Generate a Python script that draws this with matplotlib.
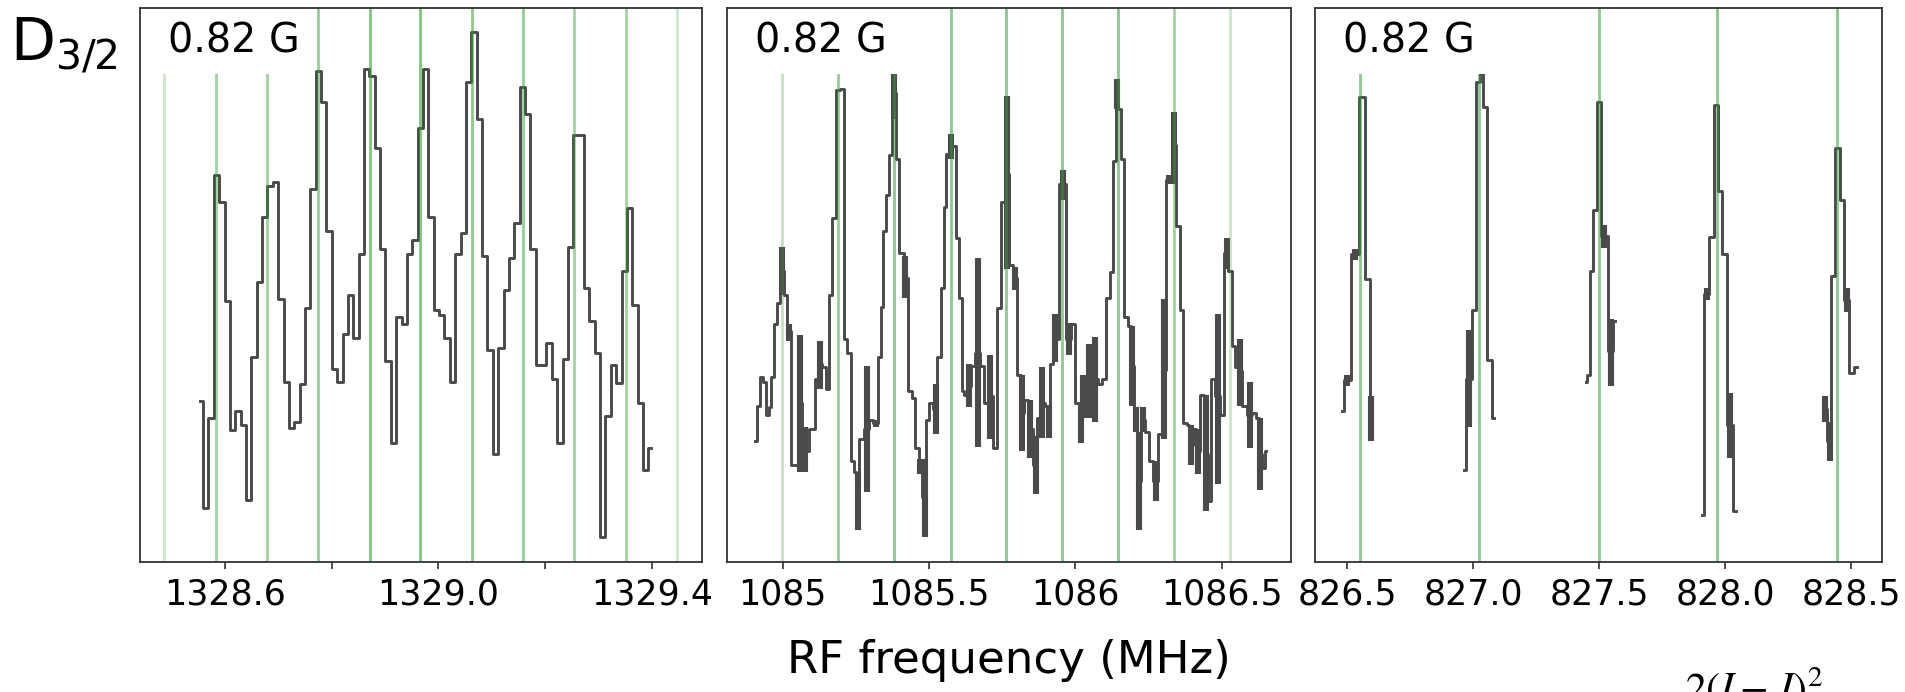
import numpy as np
import matplotlib.pyplot as plt

# ---- panel 1 (1328-1329 MHz) : regular scan, step ~0.01 MHz ----
p1_start = 1328.554
p1_step = 0.01005
p1_signal = [0.291, 0.097, 0.260, 0.699, 0.649, 0.471, 0.239, 0.273, 0.247, 0.112,
             0.370, 0.506, 0.622, 0.679, 0.685, 0.475, 0.325, 0.242, 0.253, 0.321,
             0.458, 0.674, 0.886, 0.831, 0.597, 0.349, 0.325, 0.412, 0.481, 0.404,
             0.555, 0.890, 0.878, 0.747, 0.565, 0.362, 0.214, 0.442, 0.430, 0.555,
             0.581, 0.784, 0.890, 0.623, 0.455, 0.445, 0.404, 0.325, 0.555, 0.594,
             0.867, 0.956, 0.799, 0.553, 0.383, 0.194, 0.386, 0.490, 0.549, 0.612,
             0.857, 0.808, 0.565, 0.356, 0.356, 0.396, 0.330, 0.214, 0.367, 0.568,
             0.771, 0.771, 0.495, 0.435, 0.377, 0.045, 0.263, 0.356, 0.323, 0.525,
             0.638, 0.464, 0.286, 0.166, 0.205]
p1_lines = [1328.486, 1328.583, 1328.678, 1328.774, 1328.871, 1328.966,
            1329.062, 1329.158, 1329.254, 1329.351, 1329.447]
p1_line_weight = [0.25, 0.45, 0.45, 0.5, 0.6, 0.6, 0.55, 0.5, 0.45, 0.45, 0.25]

# ---- panel 2 (1085-1086.5 MHz) ----
p2_freq = [1084.907, 1084.916, 1084.927, 1084.938, 1084.947, 1084.957, 1084.966, 1084.975,
           1084.984, 1084.998, 1085.009, 1085.023, 1085.034, 1085.045, 1085.058, 1085.077,
           1085.105, 1085.115, 1085.127, 1085.145, 1085.153, 1085.165, 1085.176, 1085.188,
           1085.202, 1085.216, 1085.227, 1085.239, 1085.248, 1085.257, 1085.267, 1085.289,
           1085.302, 1085.319, 1085.331, 1085.340, 1085.349, 1085.359, 1085.369, 1085.381,
           1085.392, 1085.407, 1085.420, 1085.438, 1085.449, 1085.459, 1085.470, 1085.485,
           1085.495, 1085.507, 1085.523, 1085.535, 1085.545, 1085.555, 1085.564, 1085.574,
           1085.585, 1085.597, 1085.608, 1085.616, 1085.623, 1085.636, 1085.650, 1085.668,
           1085.682, 1085.693, 1085.710, 1085.725, 1085.739, 1085.752, 1085.767, 1085.780,
           1085.793, 1085.809, 1085.818, 1085.832, 1085.844, 1085.866, 1085.876, 1085.886,
           1085.905, 1085.910, 1085.918, 1085.932, 1085.957, 1085.977, 1085.991, 1086.006,
           1086.019, 1086.028, 1086.048, 1086.069, 1086.085, 1086.098, 1086.113, 1086.125,
           1086.135, 1086.142, 1086.151, 1086.161, 1086.173, 1086.185, 1086.193, 1086.206,
           1086.217, 1086.231, 1086.244, 1086.257, 1086.275, 1086.290, 1086.302, 1086.320,
           1086.338, 1086.352, 1086.364, 1086.375, 1086.386, 1086.394, 1086.408, 1086.420,
           1086.432, 1086.447, 1086.458, 1086.467, 1086.489, 1086.502, 1086.517, 1086.528,
           1086.540, 1086.549, 1086.564, 1086.578, 1086.597, 1086.613, 1086.623, 1086.633,
           1086.644, 1086.651]
p2_signal = [0.218, 0.282, 0.334, 0.325, 0.266, 0.279, 0.334, 0.429,
             0.468, 0.526, 0.481, 0.416, 0.175, 0.175, 0.286, 0.201,
             0.240, 0.331, 0.357, 0.351, 0.312, 0.481, 0.620, 0.851,
             0.854, 0.403, 0.377, 0.182, 0.162, 0.110, 0.221, 0.240,
             0.256, 0.250, 0.370, 0.461, 0.597, 0.662, 0.734, 0.847,
             0.727, 0.558, 0.513, 0.308, 0.295, 0.205, 0.172, 0.117,
             0.256, 0.286, 0.276, 0.370, 0.494, 0.640, 0.737, 0.750,
             0.750, 0.584, 0.477, 0.308, 0.302, 0.318, 0.354, 0.377,
             0.354, 0.286, 0.299, 0.205, 0.458, 0.649, 0.700, 0.536,
             0.513, 0.338, 0.269, 0.292, 0.240, 0.175, 0.260, 0.286,
             0.282, 0.253, 0.357, 0.403, 0.682, 0.403, 0.429, 0.286,
             0.250, 0.299, 0.328, 0.331, 0.321, 0.331, 0.477, 0.523,
             0.724, 0.844, 0.818, 0.727, 0.442, 0.425, 0.354, 0.256,
             0.146, 0.256, 0.234, 0.182, 0.146, 0.231, 0.347, 0.690,
             0.753, 0.607, 0.455, 0.250, 0.247, 0.211, 0.240, 0.201,
             0.302, 0.195, 0.110, 0.331, 0.299, 0.266, 0.558, 0.526,
             0.390, 0.351, 0.344, 0.282, 0.266, 0.269, 0.260, 0.195,
             0.169, 0.201]
# dense repeated scans that render as solid blocks
p2_block_freq = [1084.998, 1085.023, 1085.058, 1085.077, 1085.127, 1085.257, 1085.289,
                 1085.319, 1085.381, 1085.420, 1085.470, 1085.485, 1085.523, 1085.574,
                 1085.636, 1085.668, 1085.710, 1085.767, 1085.793, 1085.818, 1085.844,
                 1085.866, 1085.886, 1085.910, 1085.932, 1085.957, 1085.977, 1086.019,
                 1086.028, 1086.048, 1086.069, 1086.142, 1086.193, 1086.206, 1086.217,
                 1086.231, 1086.275, 1086.302, 1086.320, 1086.338, 1086.394, 1086.420,
                 1086.447, 1086.489, 1086.517, 1086.564, 1086.597, 1086.633]
p2_block_low = [0.481, 0.399, 0.162, 0.162, 0.312, 0.058, 0.127,
                0.244, 0.799, 0.477, 0.159, 0.045, 0.231, 0.727,
                0.279, 0.208, 0.221, 0.529, 0.490, 0.201, 0.188,
                0.123, 0.224, 0.224, 0.360, 0.653, 0.373, 0.214,
                0.260, 0.260, 0.253, 0.818, 0.282, 0.234, 0.058,
                0.234, 0.110, 0.221, 0.682, 0.682, 0.175, 0.159,
                0.091, 0.140, 0.529, 0.282, 0.205, 0.130]
p2_block_high = [0.568, 0.429, 0.409, 0.244, 0.399, 0.162, 0.354,
                 0.256, 0.896, 0.552, 0.185, 0.185, 0.321, 0.773,
                 0.357, 0.549, 0.373, 0.841, 0.532, 0.338, 0.292,
                 0.227, 0.351, 0.282, 0.448, 0.708, 0.432, 0.286,
                 0.338, 0.393, 0.406, 0.871, 0.425, 0.279, 0.234,
                 0.279, 0.182, 0.474, 0.698, 0.812, 0.247, 0.240,
                 0.302, 0.448, 0.584, 0.403, 0.325, 0.260]
p2_lines = [1084.998, 1085.190, 1085.381, 1085.574, 1085.765, 1085.955,
            1086.146, 1086.337, 1086.530]
p2_line_weight = [0.3, 0.5, 0.55, 0.55, 0.55, 0.55, 0.55, 0.45, 0.25]

# ---- panel 3 (826.5-828.5 MHz) : five separate scans ----
p3_freq = [
    [826.480, 826.500, 826.531, 826.561, 826.584, 826.599],
    [826.964, 826.984, 827.007, 827.019, 827.033, 827.048, 827.065, 827.083],
    [827.447, 827.457, 827.469, 827.483, 827.498, 827.518, 827.549, 827.564],
    [827.908, 827.926, 827.949, 827.966, 827.976, 827.995, 828.018, 828.042],
    [828.396, 828.415, 828.427, 828.445, 828.462, 828.482, 828.503, 828.521],
]
p3_signal = [
    [0.273, 0.328, 0.555, 0.839, 0.510, 0.260],
    [0.166, 0.331, 0.455, 0.867, 0.896, 0.821, 0.364, 0.260],
    [0.325, 0.338, 0.526, 0.636, 0.831, 0.588, 0.380, 0.435],
    [0.084, 0.484, 0.586, 0.825, 0.669, 0.555, 0.247, 0.091],
    [0.276, 0.218, 0.516, 0.747, 0.653, 0.473, 0.341, 0.351],
]
p3_block_freq = [826.500, 826.531, 826.597, 826.984, 827.518, 827.549,
                 827.926, 828.018, 828.396, 828.415, 828.482]
p3_block_low = [0.318, 0.545, 0.218, 0.244, 0.567, 0.318, 0.472, 0.188, 0.253, 0.182, 0.451]
p3_block_high = [0.338, 0.565, 0.299, 0.419, 0.609, 0.438, 0.494, 0.305, 0.299, 0.253, 0.494]
p3_lines = [826.553, 827.025, 827.500, 827.969, 828.442]
p3_line_weight = [0.55, 0.55, 0.55, 0.55, 0.55]

trace_color = '#4a4a4a'
line_color = '#2ca02c'

fig = plt.figure(figsize=(19.06, 6.92), dpi=100)
ax1 = fig.add_axes([0.0735, 0.188, 0.2949, 0.8005])
ax2 = fig.add_axes([0.3814, 0.188, 0.2959, 0.8005])
ax3 = fig.add_axes([0.6899, 0.188, 0.2975, 0.8005])

p1_freq = p1_start + p1_step * np.arange(len(p1_signal))
ax1.step(p1_freq, p1_signal, where='mid', color=trace_color, lw=2.1, zorder=2)

ax2.step(p2_freq, p2_signal, where='mid', color=trace_color, lw=2.1, zorder=2)
ax2.vlines(p2_block_freq, p2_block_low, p2_block_high, color=trace_color, lw=4.4, zorder=2)

for f, s in zip(p3_freq, p3_signal):
    ax3.step(f, s, where='mid', color=trace_color, lw=2.1, zorder=2)
ax3.vlines(p3_block_freq, p3_block_low, p3_block_high, color=trace_color, lw=4.4, zorder=2)

for ax, lines, weights in [(ax1, p1_lines, p1_line_weight),
                           (ax2, p2_lines, p2_line_weight),
                           (ax3, p3_lines, p3_line_weight)]:
    for f, w in zip(lines, weights):
        ax.axvline(f, color=line_color, alpha=w, lw=2.0, zorder=3)
    ax.set_ylim(0, 1)
    ax.set_yticks([])
    for sp in ax.spines.values():
        sp.set_color('#333333')
        sp.set_linewidth(1.3)
        sp.set_zorder(6)
    ax.tick_params(axis='x', direction='out', length=5, width=1.2,
                   labelsize=25, pad=6, color='#333333')
    ax.text(0.05, 0.94, '0.82 G', transform=ax.transAxes, fontsize=28.5,
            va='center', ha='left', zorder=5,
            bbox=dict(facecolor='white', edgecolor='none', pad=9))

ax1.set_xlim(1328.441, 1329.494)
ax1.set_xticks([1328.6, 1328.8, 1329.0, 1329.2, 1329.4])
ax1.set_xticklabels(['1328.6', '', '1329.0', '', '1329.4'])

ax2.set_xlim(1084.81, 1086.737)
ax2.set_xticks([1085, 1085.5, 1086, 1086.5])
ax2.set_xticklabels(['1085', '1085.5', '1086', '1086.5'])

ax3.set_xlim(826.373, 828.622)
ax3.set_xticks([826.5, 827.0, 827.5, 828.0, 828.5])
ax3.set_xticklabels(['826.5', '827.0', '827.5', '828.0', '828.5'])

fig.text(0.005, 0.912, r'$\mathregular{D_{3/2}}$', fontsize=42, va='baseline', ha='left')
fig.text(0.5295, 0.046, 'RF frequency (MHz)', fontsize=32.5, ha='center', va='center')
# fragment of an equation that sits just below the cropped figure
fig.text(0.884, -0.014, r'$2(I-J)^2$', fontsize=30, va='baseline', ha='left',
         math_fontfamily='stix')

fig.savefig('out.png', dpi=100)
